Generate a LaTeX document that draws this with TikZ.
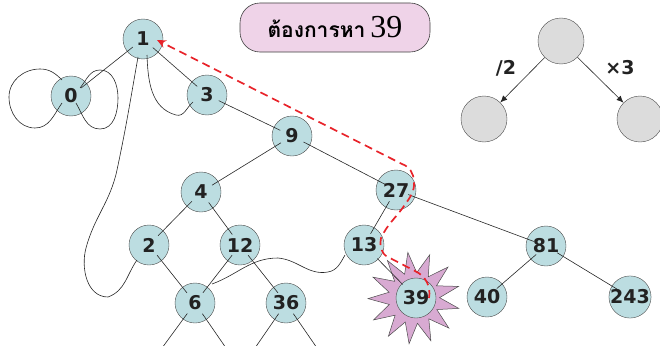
\documentclass[tikz,border=0pt]{standalone}
\usepackage{fontspec}
\setmainfont{DejaVu Sans}
\newfontfamily\thaifont[Script=Thai]{Loma}
\newfontfamily\serifnum{Liberation Serif}
\usetikzlibrary{shapes.geometric,arrows.meta,calc}
\definecolor{tealfill}{HTML}{BCDDE1}
\definecolor{greyfill}{HTML}{DCDCDC}
\definecolor{pinkfill}{HTML}{EFD3E8}
\definecolor{starfill}{HTML}{D8AAD2}
\definecolor{reddash}{HTML}{E8232A}
\definecolor{inkc}{HTML}{222222}
\begin{document}
\begin{tikzpicture}[x=1pt,y=1pt,
  tnode/.style={circle,draw=black!70,fill=tealfill,minimum size=40pt,inner sep=0pt,
    font=\fontsize{19}{19}\selectfont\bfseries,text=inkc},
  gnode/.style={circle,draw=black!70,fill=greyfill,minimum size=46pt,inner sep=0pt},
  edge/.style={draw=black!85,line width=0.6pt,shorten <=13pt,shorten >=13pt},
  curv/.style={draw=black!85,line width=0.6pt},
  garrow/.style={draw=black!85,line width=0.6pt,-{Latex[length=7pt,width=6pt]}},
  redpath/.style={draw=reddash,line width=1.7pt,dash pattern=on 8pt off 5pt,
    -{Stealth[length=9pt,width=8pt]}},
  lbl/.style={font=\fontsize{19}{19}\selectfont\bfseries,text=inkc,inner sep=0pt},
  titlebox/.style={draw=black!75,fill=pinkfill,rounded corners=20pt,minimum width=190pt,
    minimum height=49pt,line width=0.6pt},
  burst/.style={star,star points=13,star point ratio=1.8,minimum size=92pt,inner sep=0pt,
    shape border rotate=-20,draw=black!70,fill=starfill,line width=0.5pt}
]
\useasboundingbox (0,0) rectangle (660,-345);

% title
\node[titlebox] (title) at (335,-27.5) {{\thaifont\bfseries\fontsize{21}{21}\selectfont ต้องการหา}\hspace{5pt}{\serifnum\fontsize{32}{32}\selectfont 39}};

% legend
\node[gnode] (gt) at (561,-41) {};
\node[gnode] (gl) at (484,-119) {};
\node[gnode] (gr) at (640,-119) {};
\draw[garrow] (gt) -- (gl);
\draw[garrow] (gt) -- (gr);
\node[lbl] (l2) at (506,-68) {/2};
\node[lbl] (l3) at (620,-68) {×3};

% star burst
\node[burst] (burst) at (414,-298) {};

% tree nodes
\node[tnode] (n1) at (143,-39) {1};
\node[tnode] (n0) at (71,-96) {0};
\node[tnode] (n3) at (207,-95) {3};
\node[tnode] (n9) at (292,-136) {9};
\node[tnode] (n4) at (201,-192) {4};
\node[tnode] (n2) at (149,-245) {2};
\node[tnode] (n12) at (240,-245) {12};
\node[tnode] (n6) at (195,-303) {6};
\node[tnode] (n36) at (286,-303) {36};
\node[tnode] (n27) at (396,-190) {27};
\node[tnode] (n13) at (364,-245) {13};
\node[tnode] (n39) at (416,-298) {39};
\node[tnode] (n40) at (487,-297) {40};
\node[tnode] (n81) at (546,-246) {81};
\node[tnode] (n243) at (630,-297) {243};

% stub ends
\coordinate (s1) at (162,-348);
\coordinate (s2) at (226,-348);
\coordinate (s3) at (255,-348);
\coordinate (s4) at (317,-348);

% edges
\draw[edge] (n1.center) -- (n0.center);
\draw[edge] (n1.center) -- (n3.center);
\draw[edge] (n3.center) -- (n9.center);
\draw[edge] (n9.center) -- (n4.center);
\draw[edge] (n9.center) -- (n27.center);
\draw[edge] (n4.center) -- (n2.center);
\draw[edge] (n4.center) -- (n12.center);
\draw[edge] (n2.center) -- (n6.center);
\draw[edge] (n12.center) -- (n6.center);
\draw[edge] (n12.center) -- (n36.center);
\draw[edge] (n27.center) -- (n13.center);
\draw[edge] (n27.center) -- (n81.center);
\draw[edge,shorten <=19pt,shorten >=19pt] (n13.center) -- (n39.center);
\draw[edge] (n81.center) -- (n40.center);
\draw[edge] (n81.center) -- (n243.center);
\draw[edge,shorten >=0pt] (n6.center) -- (s1);
\draw[edge,shorten >=0pt] (n6.center) -- (s2);
\draw[edge,shorten >=0pt] (n36.center) -- (s3);
\draw[edge,shorten >=0pt] (n36.center) -- (s4);

% loops around 0
\draw[curv] ([shift={(-9,16)}]n0.center) to[out=135,in=0] (40,-69) to[out=180,in=90] (9,-97)
  to[out=-90,in=180] (35,-128) to[out=0,in=-125] ([shift={(-9,-7)}]n0.center);
\draw[curv] ([shift={(9,8)}]n0.center) to[out=50,in=180] (100,-70) to[out=0,in=90] (118,-98)
  to[out=-90,in=0] (100,-129) to[out=180,in=-60] ([shift={(5,-7)}]n0.center);

% curve 1 -> 3
\draw[curv] ([shift={(4,-16)}]n1.center) to[out=-88,in=165] (176,-115) to[out=-15,in=-140] ([shift={(-14,-7)}]n3.center);

% long curve 1 -> 2
\draw[curv] ([shift={(-5,-18)}]n1.center) to[out=-100,in=78] (117,-170) to[out=-102,in=75] (86,-248)
  to[out=-105,in=180] (108,-297) to[out=20,in=-125] ([shift={(-12,-15)}]n2.center);

% curve 6 -> 13
\draw[curv] ([shift={(17,19)}]n6.center) to[out=20,in=180] (278,-258) to[out=-5,in=190] (328,-272)
  to[out=10,in=-120] ([shift={(-19,-10)}]n13.center);

% search path
\draw[redpath] ([shift={(13,0)}]n39.center) to[out=80,in=-25] (415,-271) -- (388,-257)
  to[out=155,in=-100] (381,-238) to[out=65,in=-125] (404,-206) to[out=55,in=-85] (414,-181)
  to[out=95,in=-20] (402,-164) -- ([shift={(14,-1)}]n1.center);
\end{tikzpicture}
\end{document}
